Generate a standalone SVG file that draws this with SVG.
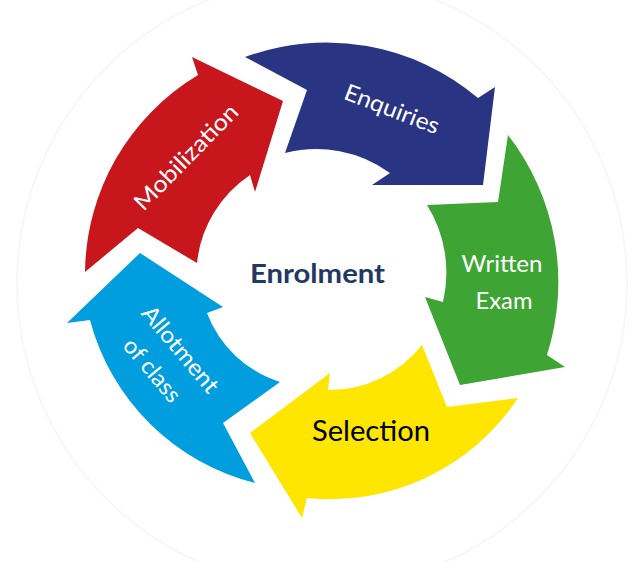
<svg xmlns="http://www.w3.org/2000/svg" width="637" height="562" viewBox="0 0 637 562">
  <style>
    .lbl { font-family: Lato, "Open Sans", "Liberation Sans", sans-serif; font-size: 23px; fill: #ffffff; text-anchor: middle; }
    .sel { font-family: Lato, "Open Sans", "Liberation Sans", sans-serif; font-size: 29px; fill: #000000; text-anchor: middle; }
    .ctr { font-family: Lato, "Open Sans", "Liberation Sans", sans-serif; font-size: 27px; font-weight: bold; fill: #1F3864; text-anchor: middle; }
  </style>
  <rect width="637" height="562" fill="#ffffff"/>
  <circle cx="322" cy="283" r="305" fill="none" stroke="#f7f7f7" stroke-width="2"/>

  <g id="mobilization">
    <path fill="#C8161D" d="M85,272 L138,228 L197,263 A121,121 0 0 1 250,175 L255,192 L283,101 L192,57 L198,75 A233,233 0 0 0 85,272 Z"/>
    <text class="lbl" transform="translate(186,157) rotate(-45.6)" x="0" y="8" textLength="138" lengthAdjust="spacingAndGlyphs">Mobilization</text>
  </g>

  <g id="enquiries">
    <path fill="#293583" d="M245,57 L307,90 L285,153 A125,125 0 0 1 390,173 L372,185 L483,185 L495,87 L478,98 A235,235 0 0 0 245,57 Z"/>
    <text class="lbl" transform="translate(392,109) rotate(21)" x="0" y="8" textLength="100" lengthAdjust="spacingAndGlyphs">Enquiries</text>
  </g>

  <g id="written-exam">
    <path fill="#3EA535" d="M508,135 L498,202 L427,205 A128,128 0 0 1 443,302 L425,297 L460,385 L565,367 L547,355 A240,240 0 0 0 508,135 Z"/>
    <text class="lbl" x="502" y="272" textLength="81" lengthAdjust="spacingAndGlyphs">Written</text>
    <text class="lbl" x="504" y="309" textLength="57" lengthAdjust="spacingAndGlyphs">Exam</text>
  </g>

  <g id="selection">
    <path fill="#FFE600" d="M518,398 L447,407 L422,345 A118,118 0 0 1 328,390 L330,373 L250,433 L302,518 L307,498 A225,225 0 0 0 518,398 Z"/>
    <text class="sel" x="371" y="441" textLength="118" lengthAdjust="spacingAndGlyphs">Selection</text>
  </g>

  <g id="allotment">
    <path fill="#009EDF" d="M255,483 L223,423 L280,382 A115,115 0 0 1 207,313 L223,307 L140,253 L67,323 L90,320 A228,228 0 0 0 255,483 Z"/>
    <g transform="translate(166,360) rotate(50)">
      <text class="lbl" x="1" y="-10" textLength="106" lengthAdjust="spacingAndGlyphs">Allotment</text>
      <text class="lbl" x="-1" y="25" textLength="76" lengthAdjust="spacingAndGlyphs">of class</text>
    </g>
  </g>

  <g id="enrolment">
    <text class="ctr" x="317.5" y="283" textLength="135" lengthAdjust="spacingAndGlyphs">Enrolment</text>
  </g>
</svg>
